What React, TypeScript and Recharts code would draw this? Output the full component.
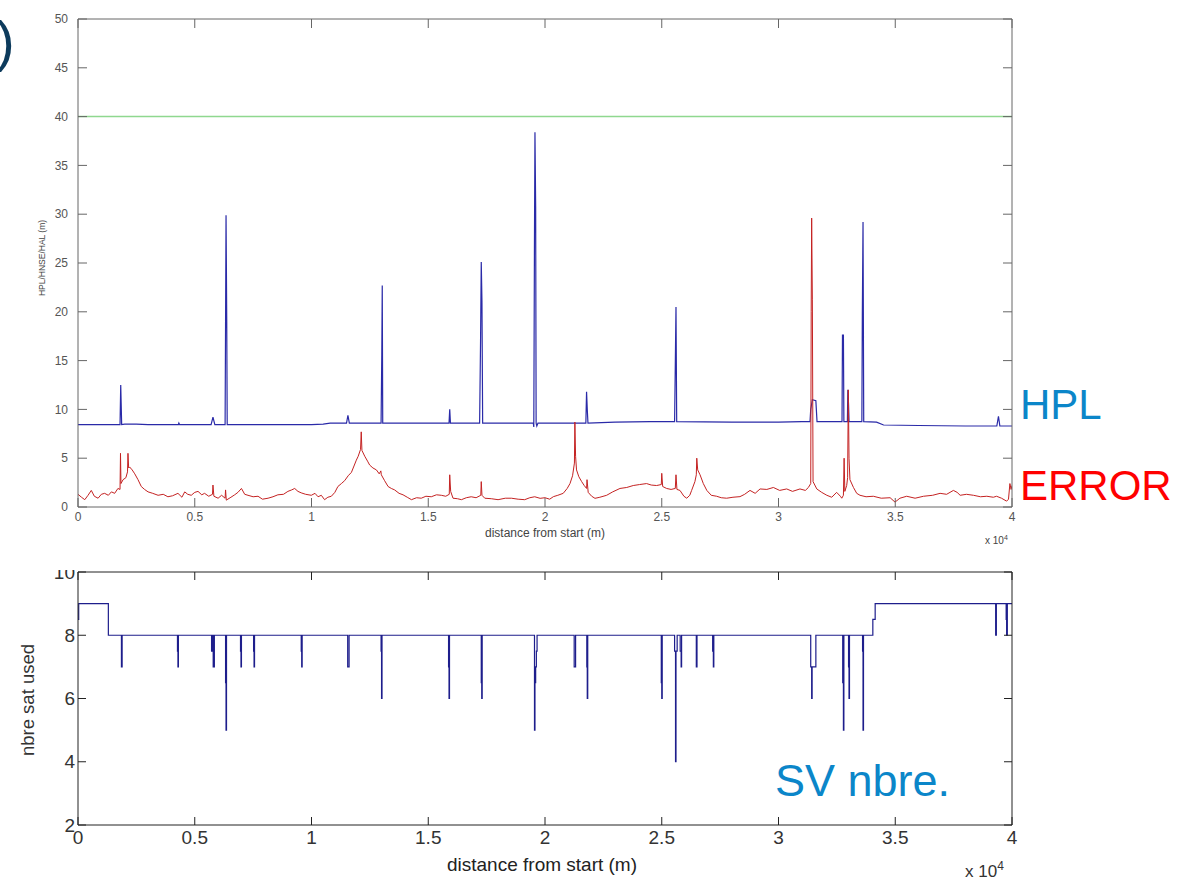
import { Line, LineChart, XAxis, YAxis } from "recharts";

const xTicks = [0, 0.5, 1, 1.5, 2, 2.5, 3, 3.5, 4];
const topYTicks = [0, 5, 10, 15, 20, 25, 30, 35, 40, 45, 50];
const bottomYTicks = [2, 4, 6, 8, 10];
const halLevel = 40;

// distance (x 10^4 m), HPL (m)
const hplPoints: [number, number][] = [
  [0, 8.45], [0.1, 8.45], [0.18, 8.45], [0.183, 12.5], [0.187, 8.45], [0.2, 8.5], [0.25, 8.5], [0.3, 8.45],
  [0.43, 8.45], [0.432, 8.6], [0.435, 8.45],
  [0.57, 8.45], [0.578, 9.2], [0.586, 8.45],
  [0.63, 8.45], [0.632, 19], [0.634, 29.9], [0.637, 19], [0.639, 8.45],
  [0.8, 8.45], [1.0, 8.45], [1.05, 8.5], [1.08, 8.6],
  [1.15, 8.6], [1.156, 9.4], [1.162, 8.6],
  [1.298, 8.6], [1.301, 15.5], [1.303, 22.7], [1.305, 8.6],
  [1.5, 8.6], [1.589, 8.6], [1.592, 10.0], [1.595, 8.6],
  [1.72, 8.6], [1.724, 17], [1.727, 25.1], [1.73, 21], [1.733, 8.6],
  [1.95, 8.6], [1.952, 8.2], [1.955, 28], [1.957, 38.4], [1.96, 30.8], [1.962, 8.6], [1.965, 8.3], [1.97, 8.6],
  [2.175, 8.6], [2.178, 11.8], [2.181, 10], [2.184, 8.6],
  [2.3, 8.7], [2.45, 8.75],
  [2.555, 8.75], [2.558, 14.5], [2.561, 20.5], [2.564, 8.75],
  [2.8, 8.7], [3.0, 8.7], [3.1, 8.75],
  [3.135, 8.75], [3.138, 10], [3.145, 11], [3.16, 10.9], [3.165, 8.75],
  [3.272, 8.75], [3.274, 17.6], [3.278, 17.6], [3.28, 8.75],
  [3.295, 8.75], [3.297, 12], [3.3, 10.5], [3.302, 8.75],
  [3.357, 8.75], [3.359, 19.6], [3.362, 29.2], [3.365, 8.75],
  [3.42, 8.7], [3.45, 8.4], [3.6, 8.35], [3.8, 8.3],
  [3.935, 8.3], [3.942, 9.3], [3.948, 8.3], [4.0, 8.3],
];

// distance (x 10^4 m), position error (m)
const errorPoints: [number, number][] = [
  [0, 1.3], [0.015, 1.0], [0.029, 0.75], [0.043, 1.2], [0.057, 1.7], [0.07, 1.1], [0.086, 0.9], [0.1, 1.3],
  [0.114, 1.4], [0.13, 1.2], [0.143, 1.55], [0.157, 1.4], [0.171, 1.9], [0.18, 1.8], [0.182, 5.5], [0.184, 2.4],
  [0.193, 2.8], [0.205, 3.0], [0.212, 3.6], [0.214, 5.5], [0.217, 4.0], [0.221, 4.1], [0.232, 3.8], [0.243, 3.4],
  [0.257, 2.8], [0.271, 2.1], [0.285, 1.8], [0.3, 1.55], [0.32, 1.4], [0.343, 1.2], [0.365, 1.3], [0.385, 1.05],
  [0.405, 1.15], [0.428, 1.4], [0.445, 1.0], [0.457, 1.55], [0.47, 1.3], [0.485, 1.2], [0.5, 1.5], [0.514, 1.6],
  [0.53, 1.25], [0.542, 1.4], [0.56, 1.1], [0.576, 1.3], [0.578, 2.25], [0.582, 1.1], [0.6, 0.9], [0.615, 1.2],
  [0.63, 0.9], [0.632, 1.75], [0.635, 0.7], [0.655, 1.0], [0.671, 1.25], [0.685, 1.5], [0.7, 1.9], [0.714, 1.3],
  [0.728, 1.2], [0.75, 1.05], [0.771, 1.1], [0.79, 0.8], [0.814, 0.9], [0.835, 1.05], [0.856, 1.25], [0.88, 1.3],
  [0.899, 1.6], [0.915, 1.75], [0.928, 1.9], [0.942, 1.6], [0.956, 1.45], [0.975, 1.3], [0.999, 1.2], [1.015, 1.4],
  [1.028, 1.05], [1.042, 1.2], [1.056, 0.75], [1.07, 1.0], [1.085, 1.1], [1.1, 1.5], [1.113, 2.1], [1.128, 2.4],
  [1.142, 2.7], [1.157, 3.2], [1.171, 3.55], [1.182, 4.2], [1.192, 4.8], [1.2, 5.2], [1.21, 5.9], [1.213, 7.7],
  [1.216, 5.8], [1.228, 5.2], [1.24, 4.7], [1.249, 4.3], [1.263, 4.0], [1.278, 3.8], [1.29, 3.4], [1.297, 3.7],
  [1.299, 3.3], [1.313, 2.7], [1.328, 2.1], [1.342, 1.9], [1.356, 1.75], [1.375, 1.4], [1.392, 1.25], [1.41, 1.0],
  [1.428, 0.75], [1.45, 0.95], [1.47, 0.9], [1.49, 1.1], [1.513, 1.05], [1.535, 1.25], [1.556, 1.2], [1.575, 1.1],
  [1.59, 1.3], [1.592, 3.3], [1.596, 1.6], [1.606, 0.9], [1.625, 0.85], [1.642, 0.75], [1.663, 0.95], [1.684, 1.05],
  [1.705, 0.95], [1.725, 1.2], [1.727, 2.6], [1.73, 1.2], [1.742, 0.9], [1.77, 0.85], [1.799, 0.75], [1.83, 0.9],
  [1.856, 0.9], [1.885, 0.8], [1.913, 0.75], [1.935, 0.95], [1.956, 1.05], [1.979, 0.89], [2.0, 0.95], [2.02, 0.8],
  [2.036, 1.06], [2.055, 1.2], [2.078, 1.4], [2.095, 1.9], [2.107, 2.4], [2.118, 3.2], [2.126, 4.5], [2.128, 8.7],
  [2.131, 5.2], [2.135, 3.8], [2.145, 3.1], [2.157, 2.6], [2.168, 2.2], [2.178, 1.9], [2.18, 2.8], [2.185, 1.5],
  [2.2, 1.1], [2.214, 0.89], [2.235, 1.0], [2.264, 1.2], [2.29, 1.55], [2.321, 1.9], [2.35, 2.0], [2.378, 2.2],
  [2.405, 2.3], [2.435, 2.4], [2.455, 2.25], [2.478, 2.2], [2.498, 2.3], [2.5, 3.45], [2.504, 2.1], [2.521, 1.9],
  [2.54, 1.8], [2.558, 1.9], [2.561, 3.3], [2.565, 1.8], [2.578, 1.7], [2.595, 1.1], [2.607, 0.9], [2.62, 1.2],
  [2.628, 1.7], [2.642, 2.6], [2.648, 3.3], [2.65, 5.0], [2.654, 3.8], [2.664, 3.3], [2.678, 2.4], [2.693, 1.7],
  [2.712, 1.2], [2.735, 1.1], [2.755, 0.95], [2.778, 0.9], [2.805, 1.0], [2.835, 1.06], [2.855, 1.3], [2.878, 1.7],
  [2.9, 1.4], [2.921, 1.85], [2.95, 1.8], [2.978, 2.0], [3.005, 1.7], [3.035, 1.85], [3.06, 1.6], [3.092, 1.85],
  [3.115, 1.7], [3.128, 2.0], [3.138, 2.4], [3.14, 20], [3.142, 29.6], [3.145, 21.3], [3.148, 2.6], [3.164, 1.85],
  [3.185, 1.5], [3.207, 1.2], [3.228, 1.0], [3.249, 1.5], [3.265, 1.1], [3.271, 0.9], [3.278, 1.2], [3.281, 5.0],
  [3.284, 1.6], [3.292, 2.2], [3.296, 3.0], [3.299, 12.0], [3.302, 5.0], [3.306, 2.8], [3.321, 2.0], [3.335, 1.4],
  [3.349, 1.2], [3.375, 1.05], [3.406, 1.1], [3.44, 0.9], [3.478, 0.95], [3.499, 0.5], [3.52, 0.9], [3.549, 1.1],
  [3.585, 0.9], [3.621, 1.1], [3.66, 1.2], [3.692, 1.4], [3.72, 1.3], [3.749, 1.7], [3.765, 1.5], [3.778, 1.2],
  [3.805, 1.3], [3.835, 1.2], [3.865, 1.05], [3.892, 1.1], [3.92, 1.0], [3.934, 1.1], [3.955, 0.9], [3.977, 0.6],
  [3.985, 0.8], [3.991, 2.4], [3.996, 1.8], [4.0, 2.2],
];

// distance (x 10^4 m), satellites used (step changes)
const satPoints: [number, number][] = [
  [0, 8.5], [0.003, 9], [0.13, 8], [0.186, 7], [0.189, 8], [0.426, 7.5], [0.428, 7], [0.43, 8],
  [0.572, 7.5], [0.576, 8], [0.579, 7], [0.584, 8], [0.632, 6.5], [0.634, 5], [0.636, 8],
  [0.696, 7.5], [0.698, 7], [0.7, 8], [0.752, 7.5], [0.754, 7], [0.756, 8], [0.956, 7.5], [0.958, 7], [0.96, 8],
  [1.155, 7], [1.161, 8], [1.298, 7.5], [1.3, 6], [1.302, 8], [1.587, 7], [1.589, 6], [1.591, 8],
  [1.727, 6.5], [1.729, 6], [1.731, 8], [1.955, 5], [1.957, 6.5], [1.96, 7], [1.963, 7.5], [1.966, 8],
  [2.125, 7], [2.131, 8], [2.179, 7], [2.181, 6], [2.183, 8], [2.498, 6.5], [2.5, 6], [2.502, 8],
  [2.555, 7.5], [2.559, 4], [2.561, 7.5], [2.566, 8], [2.579, 7.5], [2.583, 7], [2.585, 8],
  [2.648, 7], [2.651, 8], [2.718, 7.5], [2.721, 7], [2.723, 8],
  [3.138, 7], [3.142, 6], [3.144, 7], [3.16, 8], [3.275, 6.5], [3.278, 5], [3.28, 8],
  [3.3, 7], [3.302, 6], [3.304, 8], [3.36, 7.5], [3.362, 5], [3.364, 8], [3.404, 8.5], [3.414, 9],
  [3.93, 8], [3.933, 9], [3.975, 8.5], [3.977, 8], [3.98, 9], [4.0, 9],
];

const toRows = (pts: [number, number][]) => pts.map(([x, y]) => ({ x, y }));

const font = '"Liberation Sans", Arial, sans-serif';
const noLabel = () => "";

export default function App() {
  const hplData = toRows(hplPoints);
  const errorData = toRows(errorPoints);
  const satData = toRows(satPoints);
  const halData = [
    { x: 0, y: halLevel },
    { x: 4, y: halLevel },
  ];

  const topTick = { fontSize: 12, fill: "#555", fontFamily: font };
  const botTick = { fontSize: 19, fill: "#333", fontFamily: font };

  return (
    <div
      style={{
        position: "absolute",
        left: 0,
        top: 0,
        width: 1178,
        height: 882,
        background: "#fff",
        overflow: "hidden",
        fontFamily: font,
      }}
    >
      <div
        style={{
          position: "absolute",
          left: -4,
          top: 6,
          fontSize: 56,
          color: "#0d3b5c",
          lineHeight: "70px",
        }}
      >
        )
      </div>

      {/* upper panel: HPL / error / HAL */}
      <div style={{ position: "absolute", left: 0, top: 0 }}>
        <LineChart
          width={1050}
          height={560}
          margin={{ top: 18, right: 37, bottom: 23, left: 38 }}
        >
          <XAxis
            dataKey="x"
            type="number"
            domain={[0, 4]}
            ticks={xTicks}
            interval={0}
            allowDataOverflow
            height={30}
            stroke="#666"
            tickSize={-9}
            tickMargin={14}
            tick={topTick}
          />
          <XAxis
            xAxisId="top"
            dataKey="x"
            orientation="top"
            type="number"
            domain={[0, 4]}
            ticks={xTicks}
            interval={0}
            allowDataOverflow
            height={1}
            stroke="#666"
            tickSize={-9}
            tickFormatter={noLabel}
          />
          <YAxis
            type="number"
            domain={[0, 50]}
            ticks={topYTicks}
            interval={0}
            allowDataOverflow
            width={40}
            stroke="#666"
            tickSize={-9}
            tickMargin={19}
            tick={topTick}
          />
          <YAxis
            yAxisId="right"
            orientation="right"
            type="number"
            domain={[0, 50]}
            ticks={topYTicks}
            interval={0}
            allowDataOverflow
            width={1}
            stroke="#666"
            tickSize={-9}
            tickFormatter={noLabel}
          />
          <Line
            data={halData}
            dataKey="y"
            xAxisId="top"
            yAxisId="right"
            type="linear"
            stroke="#8fd88f"
            strokeWidth={1.5}
            dot={false}
            isAnimationActive={false}
          />
          <Line
            data={hplData}
            dataKey="y"
            type="linear"
            stroke="#2a2aa8"
            strokeWidth={1.2}
            dot={false}
            isAnimationActive={false}
          />
          <Line
            data={errorData}
            dataKey="y"
            type="linear"
            stroke="#c42222"
            strokeWidth={1}
            dot={false}
            isAnimationActive={false}
          />
        </LineChart>
      </div>

      <div
        style={{
          position: "absolute",
          left: 545,
          top: 533,
          transform: "translate(-50%, -50%)",
          fontSize: 12,
          color: "#444",
          whiteSpace: "nowrap",
        }}
      >
        distance from start (m)
      </div>
      <div
        style={{
          position: "absolute",
          left: 42,
          top: 258,
          transform: "translate(-50%, -50%) rotate(-90deg)",
          fontSize: 8.5,
          color: "#444",
          whiteSpace: "nowrap",
        }}
      >
        HPL/HNSE/HAL (m)
      </div>
      <div
        style={{
          position: "absolute",
          left: 985,
          top: 534,
          fontSize: 10,
          color: "#444",
          whiteSpace: "nowrap",
        }}
      >
        x 10<sup style={{ fontSize: 7 }}>4</sup>
      </div>

      {/* lower panel: satellites used */}
      <div style={{ position: "absolute", left: 0, top: 540 }}>
        <LineChart
          width={1050}
          height={340}
          margin={{ top: 31, right: 37, bottom: 25, left: 38 }}
        >
          <XAxis
            dataKey="x"
            type="number"
            domain={[0, 4]}
            ticks={xTicks}
            interval={0}
            allowDataOverflow
            height={30}
            stroke="#222"
            tickSize={-8}
            tickMargin={14}
            tick={botTick}
          />
          <XAxis
            xAxisId="top"
            dataKey="x"
            orientation="top"
            type="number"
            domain={[0, 4]}
            ticks={xTicks}
            interval={0}
            allowDataOverflow
            height={1}
            stroke="#222"
            tickSize={-8}
            tickFormatter={noLabel}
          />
          <YAxis
            type="number"
            domain={[2, 10]}
            ticks={bottomYTicks}
            interval={0}
            allowDataOverflow
            width={40}
            stroke="#222"
            tickSize={-8}
            tickMargin={11}
            tick={botTick}
          />
          <YAxis
            yAxisId="right"
            orientation="right"
            type="number"
            domain={[2, 10]}
            ticks={bottomYTicks}
            interval={0}
            allowDataOverflow
            width={1}
            stroke="#222"
            tickSize={-8}
            tickFormatter={noLabel}
          />
          <Line
            data={satData}
            dataKey="y"
            type="stepAfter"
            stroke="#1e1e8c"
            strokeWidth={1.2}
            dot={false}
            isAnimationActive={false}
          />
        </LineChart>
      </div>

      {/* the top of the "10" label is cut off in the original */}
      <div
        style={{
          position: "absolute",
          left: 40,
          top: 545,
          width: 36,
          height: 25,
          background: "#fff",
        }}
      />

      <div
        style={{
          position: "absolute",
          left: 542,
          top: 865,
          transform: "translate(-50%, -50%)",
          fontSize: 19,
          color: "#222",
          whiteSpace: "nowrap",
        }}
      >
        distance from start (m)
      </div>
      <div
        style={{
          position: "absolute",
          left: 28,
          top: 700,
          transform: "translate(-50%, -50%) rotate(-90deg)",
          fontSize: 18.5,
          color: "#333",
          whiteSpace: "nowrap",
        }}
      >
        nbre sat used
      </div>
      <div
        style={{
          position: "absolute",
          left: 965,
          top: 860,
          fontSize: 17,
          lineHeight: "20px",
          color: "#333",
          whiteSpace: "nowrap",
        }}
      >
        x 10<sup style={{ fontSize: 12, lineHeight: "12px" }}>4</sup>
      </div>

      {/* slide annotations */}
      <div style={{ position: "absolute", left: 1020, top: 381, fontSize: 42, color: "#0b86c9", lineHeight: "48px" }}>
        HPL
      </div>
      <div style={{ position: "absolute", left: 1020, top: 462, fontSize: 42, color: "#ff0000", lineHeight: "48px" }}>
        ERROR
      </div>
      <div style={{ position: "absolute", left: 775, top: 756, fontSize: 45, color: "#0b86c9", lineHeight: "50px" }}>
        SV nbre.
      </div>
    </div>
  );
}
